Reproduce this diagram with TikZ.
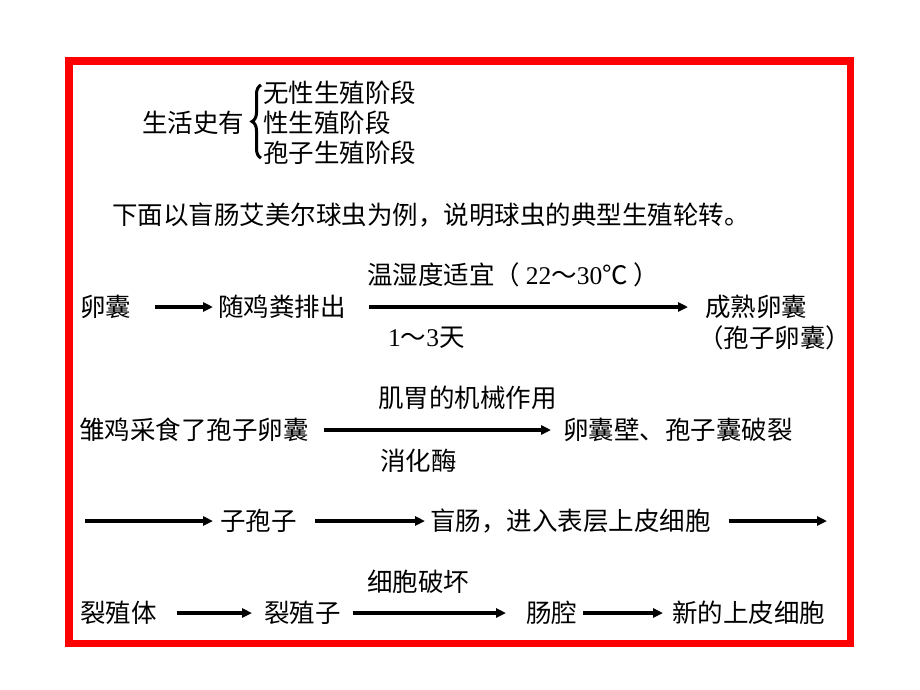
\documentclass[tikz,border=0pt]{standalone}
\usepackage{fontspec}
\setmainfont{Noto Sans CJK SC}
\newfontfamily\lat{Liberation Serif}
\usetikzlibrary{arrows.meta,decorations.pathreplacing}
\tikzset{
	lbl/.style={anchor=west, inner sep=0pt, font=\fontsize{25.5}{28}\selectfont},
	arr/.style={line width=3.5pt, -{Triangle[length=10pt,width=9pt]}},
}

\begin{document}
\begin{tikzpicture}[x=1pt, y=-1pt]
			%%%%% START %%%%%
			\useasboundingbox (0, 0) rectangle (920, 690);
			\draw[line width=7.5pt, color=red] (69, 61) rectangle (850.5, 643.5);
			
			\node[lbl] (life) at (142, 123) {生活史有};
			\node[lbl] (asex) at (263, 93) {无性生殖阶段};
			\node[lbl] (sex) at (263, 123) {性生殖阶段};
			\node[lbl] (spor) at (263, 153) {孢子生殖阶段};
			\draw[line width=3pt, decorate, decoration={brace, amplitude=9pt, aspect=0.5}]
				([xshift=-2pt, yshift=7pt]spor.south west) -- ([xshift=-2pt, yshift=-4pt]asex.north west);
			
			\node[lbl] (intro) at (112, 215) {下面以盲肠艾美尔球虫为例，说明球虫的典型生殖轮转。};
			
			\node[lbl] (egg) at (80, 307) {卵囊};
			\node[lbl] (feces) at (218, 307) {随鸡粪排出};
			\node[lbl] (ripe) at (705, 307) {成熟卵囊};
			\node[lbl] (sporo) at (698, 338) {（孢子卵囊）};
			\node[lbl] (temp) at (367, 275) {温湿度适宜（ {\lat 22}～{\lat 30}℃ ）};
			\node[lbl] (days) at (388, 338) {{\lat 1}～{\lat 3}天};
			\draw[arr] ([xshift=24pt]egg.east) -- ([xshift=-5pt]feces.west);
			\draw[arr] ([xshift=23pt]feces.east) -- ([xshift=-17pt]ripe.west);
			
			\node[lbl] (eat) at (79, 430) {雏鸡采食了孢子卵囊};
			\node[lbl] (gizzard) at (378, 398) {肌胃的机械作用};
			\node[lbl] (enzyme) at (380, 461) {消化酶};
			\node[lbl] (burst) at (563, 430) {卵囊壁、孢子囊破裂};
			\draw[arr] ([xshift=15pt]eat.east) -- ([xshift=-12pt]burst.west);
			
			\coordinate (rowstart) at (85, 521);
			\node[lbl] (sporoz) at (220, 521) {子孢子};
			\node[lbl] (caecum) at (430, 521) {盲肠，进入表层上皮细胞};
			\coordinate (rowend) at (827, 521);
			\draw[arr] (rowstart) -- ([xshift=-7pt]sporoz.west);
			\draw[arr] ([xshift=18pt]sporoz.east) -- ([xshift=-5pt]caecum.west);
			\draw[arr] ([xshift=18pt]caecum.east) -- (rowend);
			
			\node[lbl] (schizont) at (80, 613) {裂殖体};
			\node[lbl] (merozoite) at (264, 613) {裂殖子};
			\node[lbl] (destroy) at (367, 582) {细胞破坏};
			\node[lbl] (lumen) at (526, 613) {肠腔};
			\node[lbl] (newcell) at (672, 613) {新的上皮细胞};
			\draw[arr] ([xshift=20pt]schizont.east) -- ([xshift=-12pt]merozoite.west);
			\draw[arr] ([xshift=12pt]merozoite.east) -- ([xshift=-20pt]lumen.west);
			\draw[arr] ([xshift=6pt]lumen.east) -- ([xshift=-9pt]newcell.west);
			%%%%% END %%%%%
\end{tikzpicture}
\end{document}
